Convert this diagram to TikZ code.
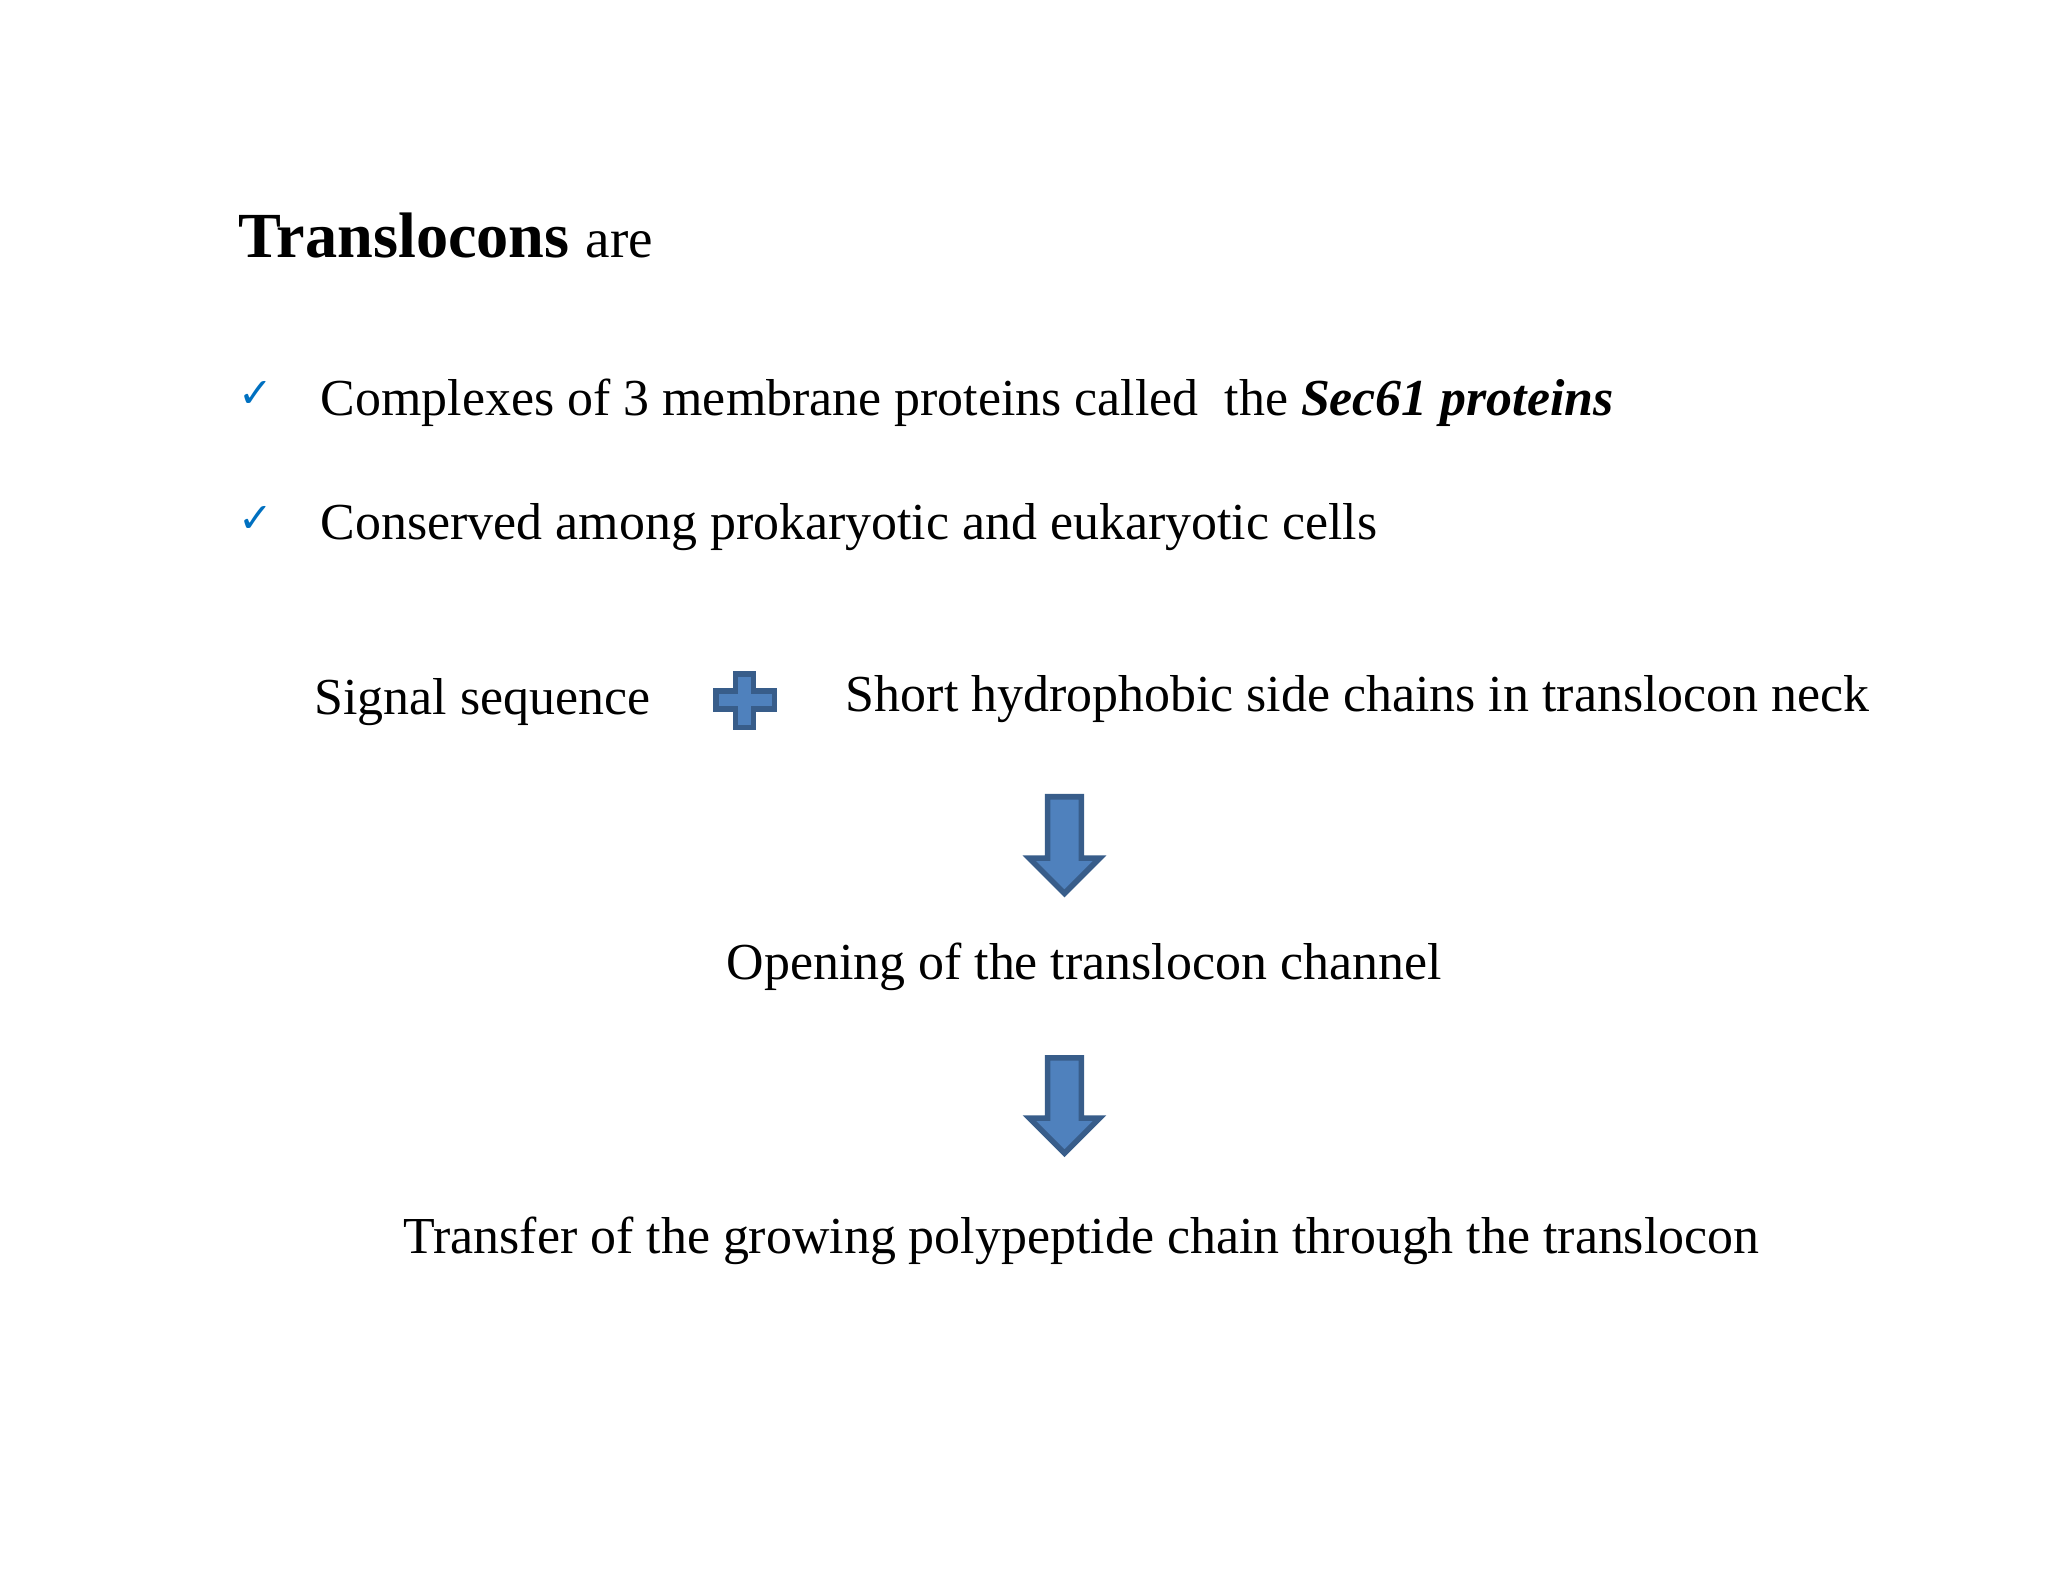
\documentclass[tikz,border=0pt]{standalone}
\usepackage{fontspec}
\setmainfont{Liberation Serif}
\newfontfamily\symfont{DejaVu Sans}
\definecolor{chk}{RGB}{0,112,192}
\definecolor{bfill}{RGB}{79,129,189}
\definecolor{bdraw}{RGB}{56,93,138}
\begin{document}
\begin{tikzpicture}[x=0.01cm,y=-0.01cm,
  txt/.style={anchor=base west,inner sep=0,font=\fontsize{11.3}{13}\selectfont},
  ctxt/.style={anchor=base,inner sep=0,font=\fontsize{11.3}{13}\selectfont},
  chkmark/.style={anchor=base,inner sep=0,text=chk,font=\symfont\fontsize{9}{10}\selectfont},
  blueshape/.style={fill=bfill,draw=bdraw,line width=1.2pt,line join=miter}]
\useasboundingbox (0,0) rectangle (1568,1211);
\node[txt,font=\fontsize{14}{16}\selectfont] (title) at (182,197) {\textbf{Translocons} \fontsize{12}{14}\selectfont are};
\node[chkmark] (c1) at (196,312) {✓};
\node[chkmark] (c2) at (196,408) {✓};
\node[txt] (l1) at (245,318) {Complexes of 3 membrane proteins called\ \ the \textbf{\textit{Sec61 proteins}}};
\node[txt] (l2) at (245,413) {Conserved among prokaryotic and eukaryotic cells};
\node[txt] (sig) at (240,547) {Signal sequence};
\node[txt] (short) at (647,545) {Short hydrophobic side chains in translocon neck};
\node[ctxt] (open) at (830,750) {Opening of the translocon channel};
\node[ctxt] (trans) at (828,960) {Transfer of the growing polypeptide chain through the translocon};
% plus
\draw[blueshape] (563,516) -- (577,516) -- (577,529) -- (593,529) -- (593,543) -- (577,543) -- (577,557) -- (563,557) -- (563,543) -- (548,543) -- (548,529) -- (563,529) -- cycle;
% arrows
\draw[blueshape] (802,610) -- (828,610) -- (828,657) -- (842,657) -- (815,684) -- (788,657) -- (802,657) -- cycle;
\draw[blueshape] (802,810) -- (828,810) -- (828,856) -- (842,856) -- (815,883) -- (788,856) -- (802,856) -- cycle;
\end{tikzpicture}
\end{document}
